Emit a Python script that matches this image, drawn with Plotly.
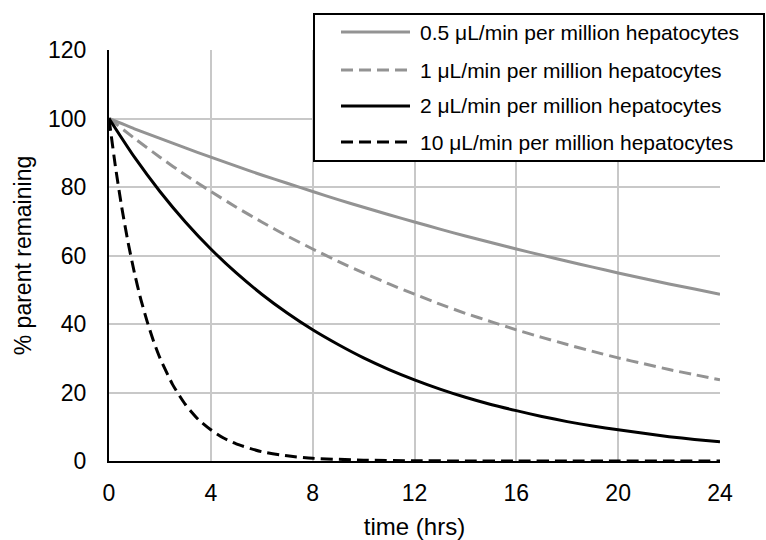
import plotly.graph_objects as go

# ---- data ----
hours = list(range(0, 25))
clint_05 = [100, 97.0, 94.2, 91.4, 88.7, 86.1, 83.5, 81.1, 78.7, 76.3, 74.1, 71.9, 69.8,
            67.7, 65.7, 63.8, 61.9, 60.1, 58.3, 56.6, 54.9, 53.3, 51.7, 50.2, 48.7]
clint_1 = [100, 94.2, 88.7, 83.5, 78.7, 74.1, 69.8, 65.7, 61.9, 58.3, 54.9, 51.7, 48.7,
           45.8, 43.1, 40.7, 38.3, 36.1, 34.0, 32.0, 30.1, 28.4, 26.7, 25.2, 23.7]
clint_2 = [100, 88.7, 78.7, 69.8, 61.9, 54.9, 48.7, 43.2, 38.3, 34.0, 30.1, 26.7, 23.7,
           21.0, 18.6, 16.5, 14.7, 13.0, 11.5, 10.2, 9.1, 8.1, 7.1, 6.3, 5.6]
hours_10 = [0, 0.25, 0.5, 0.75, 1, 1.25, 1.5, 1.75, 2, 2.5, 3, 3.5, 4, 4.5, 5, 6, 7, 8,
            10, 12, 14, 16, 18, 20, 22, 24]
clint_10 = [100, 86.1, 74.1, 63.8, 54.9, 47.2, 40.7, 35.0, 30.1, 22.3, 16.5, 12.2, 9.1,
            6.7, 5.0, 2.7, 1.5, 0.8, 0.25, 0.07, 0.02, 0.01, 0, 0, 0, 0]

series_names = ["0.5 μL/min per million hepatocytes",
                "1 μL/min per million hepatocytes",
                "2 μL/min per million hepatocytes",
                "10 μL/min per million hepatocytes"]
x_ticks = [0, 4, 8, 12, 16, 20, 24]
y_ticks = [0, 20, 40, 60, 80, 100, 120]

GREY = "#939393"
BLACK = "#000000"
DASH = "12px,6px"
LW = 3
styles = [(GREY, "solid"), (GREY, DASH), (BLACK, "solid"), (BLACK, DASH)]

FONT = "Liberation Sans, Arial, sans-serif"

fig = go.Figure()
xs = [hours, hours, hours, hours_10]
ys = [clint_05, clint_1, clint_2, clint_10]
for name, x, y, (c, d) in zip(series_names, xs, ys, styles):
    fig.add_trace(go.Scatter(x=x, y=y, mode="lines", name=name,
                             line=dict(color=c, width=LW, dash=d, shape="spline", smoothing=0.6),
                             showlegend=False))

# ---- layout (pixel geometry) ----
W, H = 766, 540
L, R, T, B = 109, 46, 50, 79
pw, ph = W - L - R, H - T - B


def px_x(p):
    return (p - L) / pw


def px_y(p):
    return (H - B - p) / ph


fig.update_layout(
    width=W, height=H,
    margin=dict(l=L, r=R, t=T, b=B, pad=0, autoexpand=False),
    paper_bgcolor="white", plot_bgcolor="white",
    font=dict(family=FONT, color="#000000"),
    xaxis=dict(range=[0, 24], tickvals=x_ticks, ticktext=[str(v) for v in x_ticks],
               showgrid=True, gridcolor="#c8c8c8", gridwidth=1.5,
               showline=True, linecolor="black", linewidth=2, zeroline=False,
               automargin=False,
               ticks="", ticklabelstandoff=10, tickfont=dict(size=23),
               title=dict(text="time (hrs)", font=dict(size=24), standoff=15)),
    yaxis=dict(range=[0, 120], tickvals=y_ticks, ticktext=[str(v) for v in y_ticks],
               showgrid=True, gridcolor="#c8c8c8", gridwidth=1.5,
               showline=True, linecolor="black", linewidth=2, zeroline=False,
               automargin=False,
               ticks="", ticklabelstandoff=16, tickfont=dict(size=23),
               title=dict(text="% parent remaining", font=dict(size=23), standoff=10)),
)

# ---- manual legend box ----
shapes = [dict(type="rect", xref="paper", yref="paper",
               x0=px_x(314), x1=px_x(764), y0=px_y(161), y1=px_y(14),
               line=dict(color="black", width=2), fillcolor="white", layer="above")]
annotations = []
row_y = [32, 70, 106, 142]
for name, (c, d), ry in zip(series_names, styles, row_y):
    shapes.append(dict(type="line", xref="paper", yref="paper",
                       x0=px_x(341), x1=px_x(410), y0=px_y(ry), y1=px_y(ry),
                       line=dict(color=c, width=LW, dash=d), layer="above"))
    annotations.append(dict(xref="paper", yref="paper", x=px_x(418), y=px_y(ry),
                            text=name, showarrow=False, xanchor="left", yanchor="middle",
                            font=dict(size=21, family=FONT, color="black")))
fig.update_layout(shapes=shapes, annotations=annotations)

fig.write_html("out.html", config={"displayModeBar": False},
               post_script="document.body.style.margin='0';document.body.style.overflow='hidden';")
